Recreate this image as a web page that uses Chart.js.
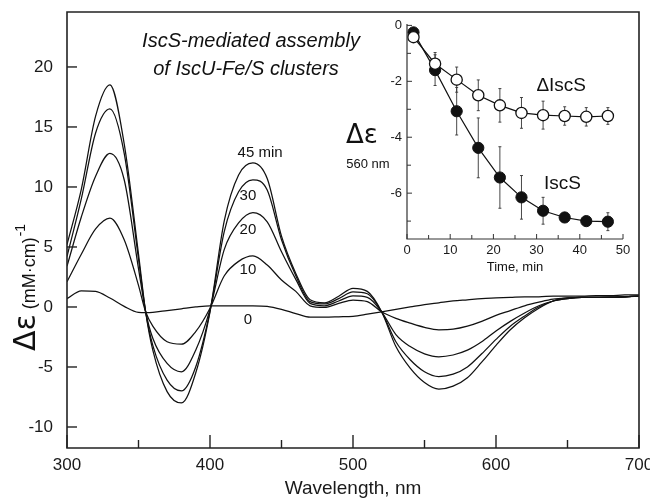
<!DOCTYPE html>
<html><head><meta charset="utf-8">
<script src="https://cdn.jsdelivr.net/npm/chart.js@4"></script>
<style>
html,body{margin:0;padding:0;background:#fff}
#wrap{position:relative;width:650px;height:502px}
canvas{position:absolute;left:0;top:0}
</style>
</head><body>
<div id="wrap"><canvas id="main" width="650" height="502"></canvas><canvas id="inset" width="650" height="502"></canvas></div>
<script>
// ---------- main spectra data ----------
const wavelengths = [300,310,320,330,340,350,355,360,370,380,390,400,410,420,430,440,450,460,470,480,490,500,510,520,530,540,550,560,570,580,590,600,610,620,630,640,650,660,670,680,690,700];
const min45 = [5.2,9.8,15.9,18.5,13.6,4.4,-0.4,-3.6,-7.05,-8.0,-5.5,-0.4,7.2,11.0,12.0,10.7,5.9,2.8,0.6,0.35,0.9,1.55,1.3,-0.4,-3.3,-5.1,-6.3,-6.85,-6.6,-5.9,-4.6,-3.2,-1.9,-0.9,-0.1,0.5,0.75,0.8,0.8,0.85,0.85,0.9];
const min30 = [4.2,9.0,14.5,16.5,12.8,4.0,-0.4,-3.2,-6.1,-7.0,-5.0,-0.35,6.3,9.6,10.6,9.75,5.6,2.6,0.45,0.25,0.7,1.25,1.1,-0.4,-2.9,-4.4,-5.4,-5.8,-5.6,-5.0,-3.9,-2.7,-1.6,-0.75,0.0,0.5,0.7,0.8,0.8,0.8,0.85,0.9];
const min20 = [3.4,7.5,10.9,12.8,10.6,3.2,-0.4,-2.6,-4.7,-5.4,-3.6,-0.2,4.8,7.0,7.86,7.1,4.6,2.3,0.3,0.1,0.5,0.92,0.8,-0.4,-2.3,-3.3,-3.9,-4.15,-4.0,-3.6,-2.9,-2.0,-1.2,-0.5,0.1,0.5,0.7,0.8,0.8,0.8,0.85,0.9];
const min10 = [2.1,4.4,6.5,7.4,5.6,1.8,-0.4,-1.6,-2.9,-3.1,-2.05,-0.1,2.6,3.8,4.25,3.5,2.25,1.3,0.1,-0.03,0.3,0.58,0.45,-0.4,-0.95,-1.35,-1.7,-1.9,-1.85,-1.6,-1.2,-0.7,-0.3,0.1,0.4,0.65,0.75,0.8,0.8,0.8,0.85,0.9];
const min0  = [0.7,1.35,1.3,0.75,0.05,-0.45,-0.47,-0.45,-0.3,-0.15,0.0,0.1,0.1,0.1,0.1,0.05,-0.2,-0.55,-0.85,-0.85,-0.82,-0.78,-0.6,-0.4,-0.2,0.0,0.2,0.35,0.5,0.6,0.7,0.75,0.8,0.85,0.85,0.9,0.9,0.9,0.95,0.95,1.0,1.0];
const curveLabels = ['45 min','30','20','10','0'];

// ---------- inset data ----------
const times = [1.5,6.5,11.5,16.5,21.5,26.5,31.5,36.5,41.5,46.5];
const iscs = [-0.25,-1.6,-3.07,-4.38,-5.44,-6.15,-6.63,-6.87,-7.0,-7.02];
const iscsErr = [0,0.55,0.85,1.07,1.1,0.78,0.48,0.15,0.12,0.32];
const dIscs = [-0.42,-1.37,-1.94,-2.5,-2.86,-3.13,-3.21,-3.24,-3.27,-3.24];
const dIscsErr = [0,0.4,0.45,0.55,0.6,0.55,0.5,0.33,0.33,0.3];

Chart.defaults.font.family = '"Liberation Sans", Arial, Helvetica, sans-serif';
Chart.defaults.color = '#1a1a1a';
Chart.defaults.animation = false;

const pts = vals => wavelengths.map((w, i) => ({x: w, y: vals[i]}));
const isMult = (v, s) => Math.abs(v / s - Math.round(v / s)) < 1e-6;

function inwardTicks(cfg) {
  return {
    id: 'inwardTicks',
    afterDatasetsDraw(chart) {
      const ctx = chart.ctx, ca = chart.chartArea;
      ctx.save();
      ctx.strokeStyle = cfg.color; ctx.lineWidth = cfg.width;
      const xs = chart.scales.x, ys = chart.scales.y;
      xs.ticks.forEach(t => {
        const p = xs.getPixelForValue(t.value);
        const len = isMult(t.value, cfg.xMajor) ? cfg.xMajorLen : cfg.xMinorLen;
        ctx.beginPath(); ctx.moveTo(p, ca.bottom); ctx.lineTo(p, ca.bottom - len); ctx.stroke();
      });
      ys.ticks.forEach(t => {
        const p = ys.getPixelForValue(t.value);
        const len = isMult(t.value, cfg.yMajor) ? cfg.yMajorLen : cfg.yMinorLen;
        ctx.beginPath(); ctx.moveTo(ca.left, p); ctx.lineTo(ca.left + len, p); ctx.stroke();
      });
      ctx.lineWidth = cfg.axisWidth;
      ctx.beginPath();
      if (cfg.box) {
        ctx.rect(ca.left, ca.top, ca.right - ca.left, ca.bottom - ca.top);
      } else {
        ctx.moveTo(ca.left, ca.top); ctx.lineTo(ca.left, ca.bottom); ctx.lineTo(ca.right, ca.bottom);
      }
      ctx.stroke();
      ctx.restore();
    }
  };
}

const mainText = {
  id: 'mainText',
  afterDraw(chart) {
    const ctx = chart.ctx, xs = chart.scales.x, ys = chart.scales.y;
    ctx.save();
    ctx.fillStyle = '#111';
    // title
    ctx.font = 'italic 20px "Liberation Sans", Arial, sans-serif';
    ctx.textAlign = 'center'; ctx.textBaseline = 'middle';
    ctx.fillText('IscS-mediated assembly', 251, 41);
    ctx.fillText('of IscU-Fe/S clusters', 246, 69);
    // curve labels placed in data units
    ctx.font = '15px "Liberation Sans", Arial, sans-serif';
    const lp = [[435, 12.85], [426.5, 9.25], [426.5, 6.4], [426.5, 3.1], [426.5, -1.1]];
    curveLabels.forEach((s, i) => {
      ctx.fillText(s, xs.getPixelForValue(lp[i][0]), ys.getPixelForValue(lp[i][1]));
    });
    // y axis title
    ctx.translate(35, 351);
    ctx.rotate(-Math.PI / 2);
    ctx.textAlign = 'left'; ctx.textBaseline = 'alphabetic';
    ctx.font = '30px "DejaVu Sans", sans-serif';
    ctx.fillText('Δε', 0, 0);
    let w = ctx.measureText('Δε').width;
    ctx.font = '18px "Liberation Sans", Arial, sans-serif';
    ctx.fillText(' (mM·cm)', w, 0);
    w += ctx.measureText(' (mM·cm)').width;
    ctx.font = '14px "Liberation Sans", Arial, sans-serif';
    ctx.fillText('-1', w + 1, -10);
    ctx.restore();
  }
};

const lineDs = (label, vals) => ({
  label, data: pts(vals), borderColor: '#111', borderWidth: 1.25,
  pointRadius: 0, fill: false, cubicInterpolationMode: 'monotone'
});

new Chart(document.getElementById('main'), {
  type: 'line',
  data: { datasets: [lineDs('45 min', min45), lineDs('30', min30), lineDs('20', min20), lineDs('10', min10), lineDs('0', min0)] },
  options: {
    responsive: false,
    layout: { padding: { top: 12, right: 11, left: 0, bottom: 0 } },
    plugins: { legend: { display: false }, tooltip: { enabled: false } },
    scales: {
      x: {
        type: 'linear', min: 300, max: 700,
        grid: { display: false, drawTicks: false }, border: { display: false },
        ticks: { stepSize: 50, autoSkip: false, maxRotation: 0, padding: 7, font: { size: 17 },
          callback: v => isMult(v, 100) ? String(v) : '' },
        title: { display: true, text: 'Wavelength, nm', font: { size: 19 }, padding: { top: 0, bottom: 2 } },
        afterFit: s => { s.height = 54; s.paddingLeft = 0; s.paddingRight = 0; }
      },
      y: {
        type: 'linear', min: -11.75, max: 24.58,
        grid: { display: false, drawTicks: false }, border: { display: false },
        ticks: { stepSize: 5, includeBounds: false, autoSkip: false, padding: 14, font: { size: 17 },
          callback: v => String(v) },
        afterFit: s => { s.width = 67; s.paddingTop = 0; s.paddingBottom = 0; }
      }
    }
  },
  plugins: [inwardTicks({ color: '#222', width: 1.4, axisWidth: 1.6, box: true,
    xMajor: 100, xMajorLen: 13, xMinorLen: 8, yMajor: 5, yMajorLen: 10, yMinorLen: 10 }), mainText]
});

// ---------- inset ----------
const errBars = {
  id: 'errBars',
  beforeDatasetsDraw(chart) {
    const ctx = chart.ctx, xs = chart.scales.x, ys = chart.scales.y;
    ctx.save();
    ctx.strokeStyle = '#333'; ctx.lineWidth = 0.9;
    chart.data.datasets.forEach(ds => {
      const errs = ds.errors;
      ds.data.forEach((p, i) => {
        const e = errs[i];
        if (!e) return;
        const x = xs.getPixelForValue(p.x);
        const y1 = ys.getPixelForValue(p.y + e), y2 = ys.getPixelForValue(p.y - e);
        ctx.beginPath();
        ctx.moveTo(x, y1); ctx.lineTo(x, y2);
        ctx.moveTo(x - 1.5, y1); ctx.lineTo(x + 1.5, y1);
        ctx.moveTo(x - 1.5, y2); ctx.lineTo(x + 1.5, y2);
        ctx.stroke();
      });
    });
    ctx.restore();
  }
};

const insetText = {
  id: 'insetText',
  afterDraw(chart) {
    const ctx = chart.ctx, xs = chart.scales.x, ys = chart.scales.y;
    ctx.save();
    ctx.fillStyle = '#111';
    ctx.textAlign = 'center'; ctx.textBaseline = 'middle';
    ctx.font = '19px "Liberation Sans", Arial, sans-serif';
    ctx.fillText('ΔIscS', xs.getPixelForValue(35.7), ys.getPixelForValue(-2.15));
    ctx.fillText('IscS', xs.getPixelForValue(36.0), ys.getPixelForValue(-5.65));
    ctx.font = '13px "Liberation Sans", Arial, sans-serif';
    ctx.fillText('Time, min', (chart.chartArea.left + chart.chartArea.right) / 2, chart.chartArea.bottom + 28);
    ctx.fillText('560 nm', 368, 164);
    ctx.font = '26px "DejaVu Sans", sans-serif';
    ctx.fillText('Δε', 362, 136);
    ctx.restore();
  }
};

new Chart(document.getElementById('inset'), {
  type: 'line',
  data: {
    datasets: [
      { label: 'ΔIscS', data: times.map((t, i) => ({x: t, y: dIscs[i]})), errors: dIscsErr,
        borderColor: '#111', borderWidth: 1.2, pointRadius: 5.6, pointBackgroundColor: '#fff',
        pointBorderColor: '#111', pointBorderWidth: 1.3, tension: 0 },
      { label: 'IscS', data: times.map((t, i) => ({x: t, y: iscs[i]})), errors: iscsErr,
        borderColor: '#111', borderWidth: 1.2, pointRadius: 5.6, pointBackgroundColor: '#111',
        pointBorderColor: '#111', pointBorderWidth: 1, tension: 0 }
    ]
  },
  options: {
    responsive: false,
    layout: { padding: { top: 24, right: 27, left: 0, bottom: 0 } },
    plugins: { legend: { display: false }, tooltip: { enabled: false } },
    scales: {
      x: {
        type: 'linear', min: 0, max: 50,
        grid: { display: false, drawTicks: false }, border: { display: false },
        ticks: { stepSize: 5, autoSkip: false, maxRotation: 0, padding: 4, font: { size: 13 },
          callback: v => isMult(v, 10) ? String(v) : '' },
        afterFit: s => { s.height = 263; s.paddingLeft = 0; s.paddingRight = 0; }
      },
      y: {
        type: 'linear', min: -7.64, max: 0.05,
        grid: { display: false, drawTicks: false }, border: { display: false },
        ticks: { stepSize: 1, includeBounds: false, autoSkip: false, padding: 5, font: { size: 13 },
          callback: v => isMult(v, 2) ? String(v) : '' },
        afterFit: s => { s.width = 407; s.paddingTop = 0; s.paddingBottom = 0; }
      }
    }
  },
  plugins: [errBars, inwardTicks({ color: '#333', width: 1, axisWidth: 1.2, box: false,
    xMajor: 10, xMajorLen: 5, xMinorLen: 4, yMajor: 2, yMajorLen: 5, yMinorLen: 4 }), insetText]
});
</script>
</body></html>
